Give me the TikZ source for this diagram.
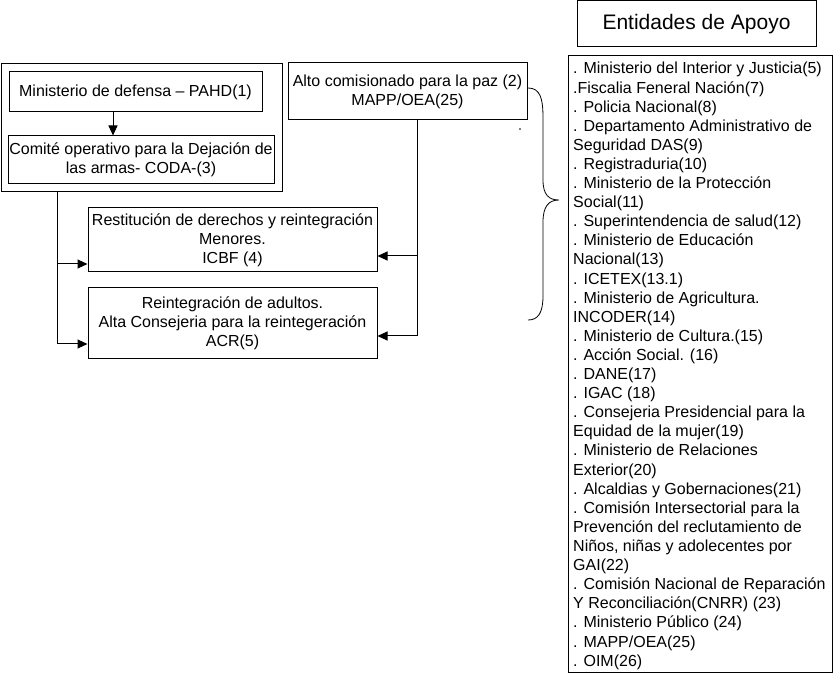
\documentclass[tikz,border=0pt]{standalone}
\usepackage{fontspec}
\setmainfont{Liberation Sans}
\usetikzlibrary{arrows.meta}

\begin{document}
\begin{tikzpicture}[x=1pt,y=-1pt,
  box/.style={draw,line width=1pt,inner sep=0pt,align=center,
    font=\fontsize{16}{19}\selectfont},
  arr/.style={line width=1pt,-{Triangle[length=10pt,width=9pt]}},
  item/.style={anchor=base west,inner sep=0pt,font=\fontsize{16}{19}\selectfont}]
\useasboundingbox (0,0) rectangle (836,676);

% left group
\node[box,minimum width=281,minimum height=128] (grp) at (141.5,128) {};
\node[box,minimum width=253,minimum height=40] (mdef) at (135.5,92) {Ministerio de defensa – PAHD(1)};
\node[box,minimum width=266,minimum height=48] (coda) at (141,160) {Comité operativo para la Dejación de\\las armas- CODA-(3)};

\node[box,minimum width=239,minimum height=57] (alto) at (407.5,91.5) {Alto comisionado para la paz (2)\\MAPP/OEA(25)};
\node[box,minimum width=289,minimum height=64] (icbf) at (232.5,240) {Restitución de derechos y reintegración\\Menores.\\ICBF (4)};
\node[box,minimum width=289,minimum height=71] (acr) at (232.5,323.5) {Reintegración de adultos.\\Alta Consejeria para la reintegeración\\ACR(5)};

% apoyo
\node[box,minimum width=239,minimum height=46,font=\fontsize{21}{25}\selectfont] (titulo) at (696.5,24) {Entidades de Apoyo};
\node[box,minimum width=264,minimum height=616] (lista) at (700,364) {};
\foreach \t [count=\i] in {
  . Ministerio del Interior y Justicia(5),
  .Fiscalia Feneral Nación(7),
  . Policia Nacional(8),
  . Departamento Administrativo de,
  Seguridad DAS(9),
  . Registraduria(10),
  . Ministerio de la Protección,
  Social(11),
  . Superintendencia de salud(12),
  . Ministerio de Educación,
  Nacional(13),
  . ICETEX(13.1),
  . Ministerio de Agricultura.,
  INCODER(14),
  . Ministerio de Cultura.(15),
  . Acción Social. (16),
  . DANE(17),
  . IGAC (18),
  . Consejeria Presidencial para la,
  Equidad de la mujer(19),
  . Ministerio de Relaciones,
  Exterior(20),
  . Alcaldias y Gobernaciones(21),
  . Comisión Intersectorial para la,
  Prevención del reclutamiento de,
  {Niños, niñas y adolecentes por},
  GAI(22),
  . Comisión Nacional de Reparación,
  Y Reconciliación(CNRR) (23),
  . Ministerio Público (24),
  . MAPP/OEA(25),
  . OIM(26)}
  \node[item] (e\i) at (573,{74+19.1*(\i-1)}) {\t};

% connectors
\coordinate (lft) at (57,0);
\coordinate (mid) at (113,0);
\coordinate (rgt) at (417,0);
\draw[arr] (mdef.south -| mid) -- (coda.north -| mid);
\draw[arr] (grp.south -| lft) |- ([yshift=-24pt]icbf.west);
\draw[arr] (grp.south -| lft) |- ([yshift=-20.5pt]acr.west);
\draw[arr] (alto.south -| rgt) |- ([yshift=-16pt]icbf.east);
\draw[arr] (alto.south -| rgt) |- ([yshift=-12.5pt]acr.east);

% brace
\draw[line width=.8pt] (528,88) .. controls (540,88) and (543,98) .. (543,118) -- (543,180)
  .. controls (543,195) and (549,200) .. (559,200)
  .. controls (549,200) and (543,206) .. (543,222) -- (543,296)
  .. controls (543,313) and (538,320) .. (528,320);
\fill (520,129) circle (.8);
\end{tikzpicture}
\end{document}
